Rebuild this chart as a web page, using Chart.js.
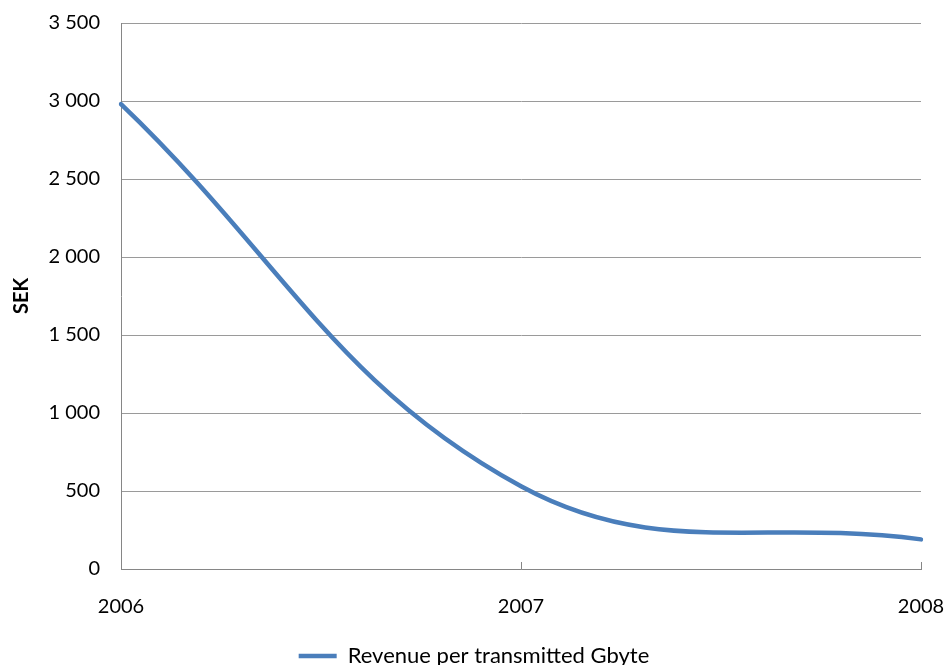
<!DOCTYPE html>
<html>
<head>
<meta charset="utf-8">
<title>Revenue per transmitted Gbyte</title>
<script src="https://cdn.jsdelivr.net/npm/chart.js@4/dist/chart.umd.min.js"></script>
<style>
  html, body { margin: 0; padding: 0; background: #ffffff; }
  #wrap { width: 948px; height: 665px; }
</style>
</head>
<body>
<div id="wrap"><canvas id="chart" width="948" height="665"></canvas></div>
<script>
// Yearly revenue per transmitted gigabyte (SEK)
const years = ['2006', '2007', '2008'];
const revenuePerGbyte = [2980, 530, 190];
const seriesName = 'Revenue per transmitted Gbyte';
const yAxisTitle = 'SEK';
const yTicks = [0, 500, 1000, 1500, 2000, 2500, 3000, 3500];

const lineBlue = '#4a7ebb';
const axisGray = '#868686';
const gridGray = '#9a9a9a';

// "3 500" style thousands grouping
function groupThousands(v) {
  return String(v).replace(/\B(?=(\d{3})+(?!\d))/g, ' ');
}

// Short tick marks standing up from the category axis into the plot
const innerTicks = {
  id: 'innerTicks',
  afterDraw(chart) {
    const xs = chart.scales.x;
    const ctx = chart.ctx;
    ctx.save();
    ctx.strokeStyle = axisGray;
    ctx.lineWidth = 1;
    xs.ticks.forEach((t, i) => {
      const px = Math.round(xs.getPixelForTick(i)) + 0.5;
      ctx.beginPath();
      ctx.moveTo(px, xs.top);
      ctx.lineTo(px, xs.top - 7);
      ctx.stroke();
    });
    ctx.restore();
  }
};

Chart.defaults.font.family = 'Lato, "Open Sans", sans-serif';
Chart.defaults.color = '#000000';

new Chart(document.getElementById('chart'), {
  type: 'line',
  data: {
    labels: years,
    datasets: [{
      label: seriesName,
      data: revenuePerGbyte,
      borderColor: lineBlue,
      backgroundColor: lineBlue,
      borderWidth: 4.5,
      borderCapStyle: 'round',
      tension: 0.4,
      pointRadius: 0,
      pointHoverRadius: 0,
      fill: false
    }]
  },
  options: {
    responsive: false,
    animation: false,
    devicePixelRatio: 1,
    layout: { padding: { top: 0, right: 0, bottom: -12, left: 0 } },
    plugins: {
      tooltip: { enabled: false },
      legend: {
        position: 'bottom',
        labels: {
          usePointStyle: true,
          pointStyle: 'line',
          pointStyleWidth: 38,
          padding: 0,
          font: { size: 22 },
          color: '#000000'
        }
      }
    },
    scales: {
      x: {
        type: 'category',
        offset: false,
        grid: { display: true, drawOnChartArea: false, drawTicks: false },
        border: { display: true, color: axisGray, width: 1 },
        ticks: { padding: 26, font: { size: 20 }, color: '#000000', maxRotation: 0, autoSkip: false },
        afterFit(scale) {
          scale.height = 76;
          scale.paddingLeft = 0;
          scale.paddingRight = 27;
        }
      },
      y: {
        min: 0,
        max: 3500,
        afterBuildTicks(scale) { scale.ticks = yTicks.map(v => ({ value: v })); },
        grid: { color: gridGray, lineWidth: 1, drawTicks: false },
        border: { display: true, color: axisGray, width: 1 },
        ticks: {
          padding: 21,
          font: { size: 20 },
          color: '#000000',
          callback: v => groupThousands(v)
        },
        title: {
          display: true,
          text: yAxisTitle,
          font: { size: 20, weight: 'bold' },
          color: '#000000',
          padding: { top: 10, bottom: 0 }
        },
        afterFit(scale) {
          scale.width = 121;
          scale.paddingTop = 23;
          scale.paddingBottom = 0;
        }
      }
    }
  },
  plugins: [innerTicks]
});
</script>
</body>
</html>
